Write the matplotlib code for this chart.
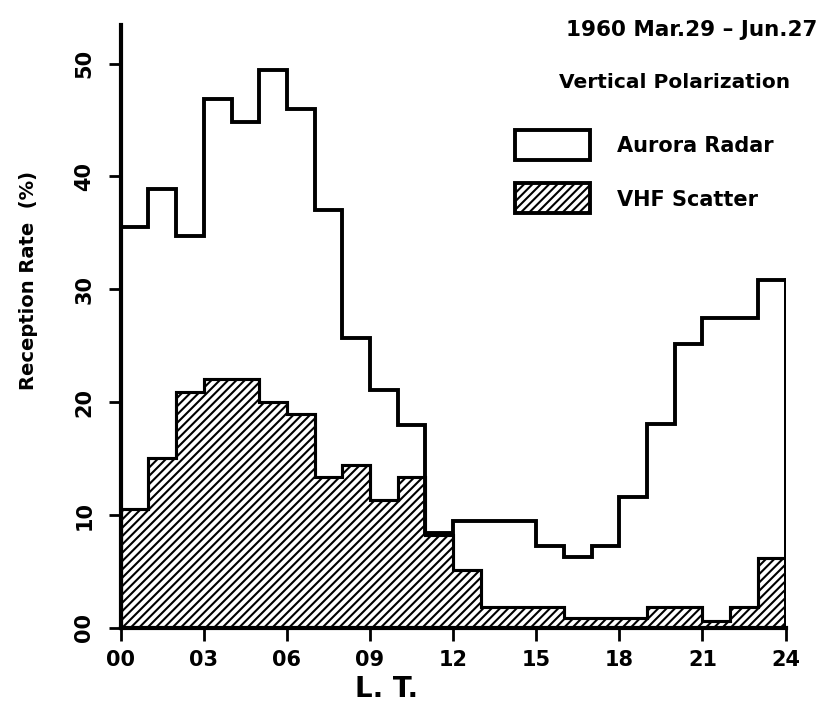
import numpy as np
import matplotlib
matplotlib.use("Agg")
import matplotlib.pyplot as plt

# -------------------------------------------------------
# DATA (hourly reception rates, %)
# -------------------------------------------------------
hours = np.arange(0, 25)  # bin edges 00..24 LT

aurora_radar = [35.5, 38.9, 34.7, 46.9, 44.8, 49.4, 46.0, 37.0, 25.7, 21.1,
                18.0, 8.4, 9.5, 9.5, 9.5, 7.3, 6.3, 7.3, 11.6, 18.1,
                25.2, 27.5, 27.5, 30.8]

vhf_scatter = [10.5, 15.1, 20.9, 22.1, 22.1, 20.0, 19.0, 13.4, 14.4, 11.3,
               13.4, 8.2, 5.1, 1.9, 1.9, 1.9, 0.9, 0.9, 0.9, 1.9,
               1.9, 0.6, 1.9, 6.2]

x_ticks = [0, 3, 6, 9, 12, 15, 18, 21, 24]
x_ticklabels = ["00", "03", "06", "09", "12", "15", "18", "21", "24"]
y_ticks = [0, 10, 20, 30, 40, 50]
y_ticklabels = ["00", "10", "20", "30", "40", "50"]

title_period = "1960 Mar.29 \u2013 Jun.27"
title_pol = "Vertical Polarization"

# -------------------------------------------------------
# PLOT
# -------------------------------------------------------
plt.rcParams["font.family"] = ["DejaVu Sans"]
plt.rcParams["font.weight"] = "bold"
plt.rcParams["hatch.linewidth"] = 1.5

fig = plt.figure(figsize=(8.33, 7.21), dpi=100)
ax = fig.add_axes([0.145, 0.129, 0.798, 0.836])

# VHF scatter: hatched
ax.stairs(vhf_scatter, hours, fill=True, facecolor="white",
          edgecolor="black", hatch="////", linewidth=2.2, zorder=2)
ax.stairs(vhf_scatter, hours, fill=False, color="black",
          linewidth=2.2, zorder=3)
# Aurora radar: open outline
ax.stairs(aurora_radar, hours, fill=False, color="black",
          linewidth=2.8, zorder=4)
ax.plot([24, 24], [0, aurora_radar[-1]], color="black", lw=2.8, zorder=4)

ax.set_xlim(0, 24)
ax.set_ylim(0, 53.4)
ax.set_xticks(x_ticks)
ax.set_xticklabels(x_ticklabels, fontsize=15, fontweight="bold")
ax.set_yticks(y_ticks)
ax.set_yticklabels(y_ticklabels, fontsize=15, fontweight="bold",
                   rotation=90, va="center")
ax.tick_params(axis="both", direction="out", length=9, width=2,
               colors="black")
ax.tick_params(axis="x", pad=7)
ax.tick_params(axis="y", pad=10)

for side in ["top", "right"]:
    ax.spines[side].set_visible(False)
for side in ["left", "bottom"]:
    ax.spines[side].set_linewidth(3)

ax.set_ylabel("Reception Rate  (%)", fontsize=14, fontweight="bold")
ax.yaxis.set_label_coords(-0.125, 0.577)
ax.set_xlabel("L. T.", fontsize=20, fontweight="bold")
ax.xaxis.set_label_coords(0.40, -0.078)

# titles in upper right
fig.text(0.981, 0.958, title_period, ha="right", va="center",
         fontsize=15.5, fontweight="bold")
fig.text(0.949, 0.885, title_pol, ha="right", va="center",
         fontsize=14.5, fontweight="bold")

# legend (drawn by hand as boxes, figure coords)
lx0, lw_box, lh_box = 515 / 833, 75 / 833, 30 / 721
box1 = plt.Rectangle((lx0, 1 - 160 / 721), lw_box, lh_box,
                     transform=fig.transFigure, facecolor="white",
                     edgecolor="black", linewidth=2.8)
box2 = plt.Rectangle((lx0, 1 - 213 / 721), lw_box, lh_box,
                     transform=fig.transFigure, facecolor="white",
                     edgecolor="black", linewidth=2.8, hatch="////")
fig.patches.extend([box1, box2])
fig.text(617 / 833, 1 - 146 / 721, "Aurora Radar", ha="left", va="center",
         fontsize=15, fontweight="bold")
fig.text(617 / 833, 1 - 200 / 721, "VHF Scatter", ha="left", va="center",
         fontsize=15, fontweight="bold")

fig.savefig("out.png", dpi=100)
